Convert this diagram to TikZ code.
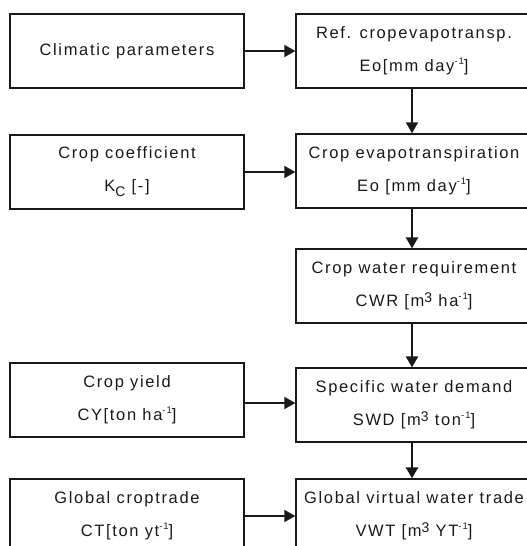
\documentclass[tikz,border=0pt]{standalone}
\usepackage{fontspec}
\setmainfont{Liberation Sans}[LetterSpace=10]
\usetikzlibrary{arrows.meta}
\newcommand{\upsc}[1]{\raisebox{7pt}{\fontsize{9.5}{9.5}\selectfont #1}}
\newcommand{\upth}[1]{\raisebox{4.5pt}{\fontsize{14}{14}\selectfont #1}}
\newcommand{\dnsc}[1]{\raisebox{-5pt}{\fontsize{14}{14}\selectfont #1}}
\definecolor{ink}{RGB}{25,25,25}
\tikzset{
  box/.style={draw=ink, line width=1.3pt, minimum width=234pt, minimum height=74pt,
    inner sep=0pt, align=center, text=ink, font=\fontsize{16.5}{33}\selectfont},
  rbox/.style={box, minimum width=236pt},
  arr/.style={draw=ink, line width=1.8pt, -{Triangle[length=11pt,width=12pt]}},
  varr/.style={arr, line width=2.4pt}
}
\begin{document}
\begin{tikzpicture}[x=1pt,y=-1pt]
\useasboundingbox (0,0) rectangle (527,546);
\clip (0,0) rectangle (527,546);
\node[box] (l1) at (127,51) {Climatic parameters};
\node[rbox] (r1) at (414,51) {Ref. cropevapotransp.\\Eo[mm day\upsc{-1}]};
\node[box] (l2) at (127,172) {Crop coefficient\\K\dnsc{C} [-]};
\node[rbox] (r2) at (414,171) {Crop evapotranspiration\\Eo [mm day\upsc{-1}]};
\node[rbox] (r3) at (414,286) {Crop water requirement\\CWR [m\upth{3} ha\upsc{-1}]};
\node[box] (l4) at (127,400) {Crop yield\\CY[ton ha\upsc{-1}]};
\node[rbox] (r4) at (414,405) {Specific water demand\\SWD [m\upth{3} ton\upsc{-1}]};
\node[box] (l5) at (127,516) {Global croptrade\\CT[ton yt\upsc{-1}]};
\node[rbox] (r5) at (414,516) {Global virtual water trade\\VWT [m\upth{3} YT\upsc{-1}]};
\draw[arr] (l1) -- (r1);
\draw[arr] (l2) -- (l2 -| r2.west);
\draw[arr] ([yshift=-3pt]l4.east) -- ([yshift=-3pt]l4.east -| r4.west);
\draw[arr] (l5) -- (r5);
\draw[arr] ([xshift=-2pt]r1.south) -- ([xshift=-2pt]r2.north);
\draw[varr] ([xshift=-2pt]r2.south) -- ([xshift=-2pt]r3.north);
\draw[varr] ([xshift=-2pt]r3.south) -- ([xshift=-2pt]r4.north);
\draw[varr] ([xshift=-2pt]r4.south) -- ([xshift=-2pt]r5.north);
\end{tikzpicture}
\end{document}
